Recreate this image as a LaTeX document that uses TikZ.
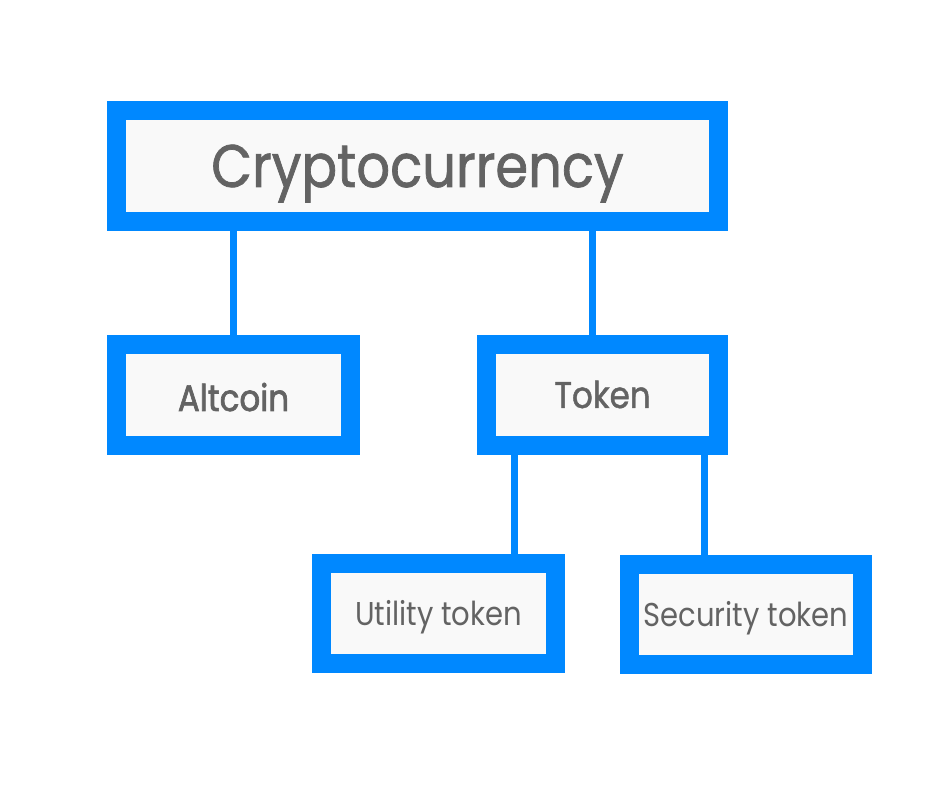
\documentclass[tikz,border=0pt]{standalone}
\usepackage{fontspec}
\setmainfont{Poppins}[FakeStretch=0.88]
\newfontfamily\medfont{Poppins}[FakeStretch=0.88,FakeBold=1.2]
\newfontfamily\semifont{Poppins}[FakeStretch=0.88,FakeBold=1.8]
\usepackage{xcolor}
\usetikzlibrary{positioning,calc}

\definecolor{boxblue}{HTML}{0088FF}
\definecolor{boxfill}{HTML}{F9F9F9}
\definecolor{txtgray}{HTML}{636363}

\begin{document}
\begin{tikzpicture}[x=1pt,y=1pt,
    catbox/.style={draw=boxblue, fill=boxfill, line width=19pt, inner sep=0pt,
        minimum width=234pt, minimum height=101pt, text=txtgray, text depth=0pt},
    link/.style={draw=boxblue, line width=7pt}]
    \useasboundingbox (0,0) rectangle (940,788);

    % Main category
    \node[catbox, minimum width=602pt, minimum height=111pt, text height=42pt,
        font=\medfont\fontsize{60}{70}\selectfont] (crypto) at (417.5,622) {Cryptocurrency};

    % Second level
    \node[catbox, text height=32pt, font=\semifont\fontsize{37}{44}\selectfont] (altcoin) at (233.5,393) {Altcoin};
    \node[catbox, minimum width=232pt, text height=26pt, font=\medfont\fontsize{37}{44}\selectfont] (token) at (602.5,393) {Token};

    % Kinds of token
    \node[catbox, minimum height=100pt, text height=23pt, font=\fontsize{33}{40}\selectfont] (utility) at (438.5,174.5) {Utility token};
    \node[catbox, minimum width=233pt, minimum height=100pt, text height=23pt, font=\fontsize{33}{40}\selectfont] (security) at (746,173.5) {Security token};

    % Connectors
    \draw[link] (altcoin.north) -- (altcoin.north |- crypto.south);
    \draw[link] ([xshift=-10.5pt]token.north) -- ([xshift=-10.5pt]token.north |- crypto.south);
    \draw[link] ([xshift=75.5pt]utility.north) -- ([xshift=75.5pt]utility.north |- token.south);
    \draw[link] ([xshift=-42pt]security.north) -- ([xshift=-42pt]security.north |- token.south);
\end{tikzpicture}
\end{document}
